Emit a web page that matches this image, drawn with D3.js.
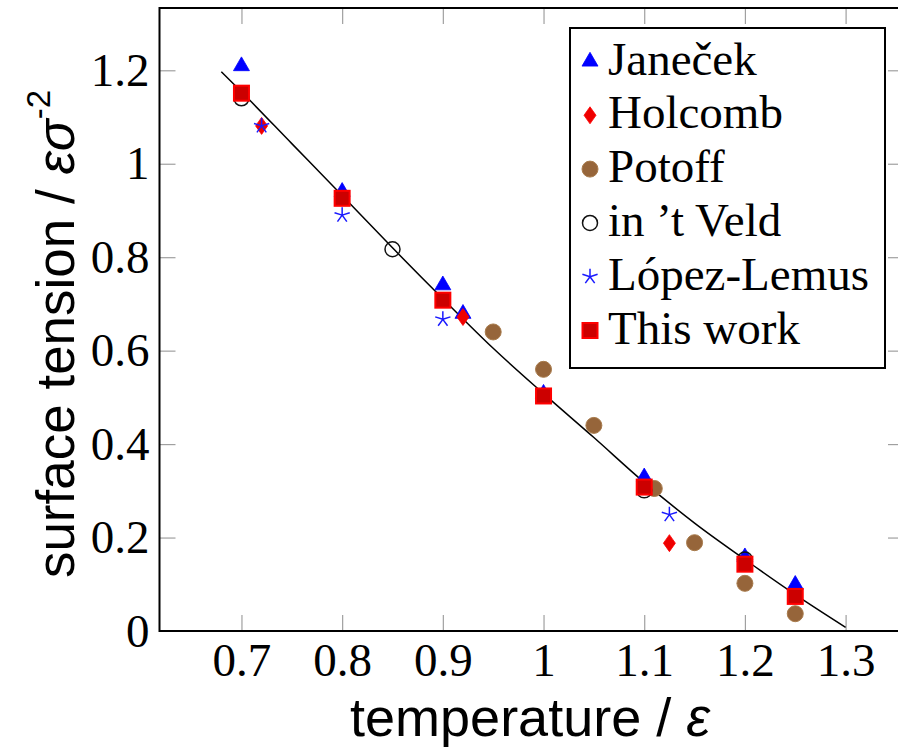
<!DOCTYPE html>
<html>
<head>
<meta charset="utf-8">
<script src="https://cdn.jsdelivr.net/npm/d3@7"></script>
<style>
  body { margin: 0; background: #fff; }
  svg { display: block; }
  .tick text { font-family: "Liberation Serif", serif; font-size: 47px; fill: #000; }
  .tick line { stroke: #a0a0a0; stroke-width: 1.2; }
</style>
</head>
<body>
<svg id="chart" width="898" height="748"></svg>
<script>
// fitted curve
const curveT = [0.68, 0.70, 0.75, 0.80, 0.85, 0.90, 0.95, 1.00, 1.05, 1.10, 1.15, 1.20, 1.25, 1.30];
const curveG = [1.197, 1.154, 1.043, 0.932, 0.820, 0.711, 0.605, 0.508, 0.414, 0.318, 0.231, 0.153, 0.078, 0.008];

const janecekT = [0.70, 0.80, 0.90, 0.92, 1.00, 1.10, 1.20, 1.25];
const janecekG = [1.209, 0.940, 0.740, 0.679, 0.508, 0.329, 0.158, 0.099];
const holcombT = [0.72, 0.92, 1.125];
const holcombG = [1.081, 0.672, 0.188];
const potoffT = [0.95, 1.00, 1.05, 1.11, 1.15, 1.20, 1.25];
const potoffG = [0.640, 0.560, 0.440, 0.305, 0.189, 0.102, 0.037];
const veldT = [0.70, 0.85, 1.10, 1.20];
const veldG = [1.140, 0.817, 0.301, 0.153];
const lopezT = [0.72, 0.80, 0.90, 1.125];
const lopezG = [1.081, 0.890, 0.667, 0.249];
const thisT = [0.70, 0.80, 0.90, 1.00, 1.10, 1.20, 1.25];
const thisG = [1.151, 0.926, 0.708, 0.503, 0.308, 0.143, 0.074];

const xTicks = [0.7, 0.8, 0.9, 1.0, 1.1, 1.2, 1.3];
const xTickLabels = ["0.7", "0.8", "0.9", "1", "1.1", "1.2", "1.3"];
const yTicks = [0, 0.2, 0.4, 0.6, 0.8, 1.0, 1.2];
const yTickLabels = ["0", "0.2", "0.4", "0.6", "0.8", "1", "1.2"];

const legendNames = ["Janeček", "Holcomb", "Potoff", "in ’t Veld", "López-Lemus", "This work"];

let plotLeft = 159.5, plotRight = 904, plotTop = 8, plotBottom = 631;

let svg = d3.select("#chart")

let x = d3.scaleLinear().domain([0.6186, 1.358]).range([plotLeft, plotRight])
let y = d3.scaleLinear().domain([0, 1.3333]).range([plotBottom, plotTop])

// ticks on all four sides, pointing inwards
svg.append("g")
   .attr("transform", `translate(0,${plotBottom})`)
   .call(d3.axisBottom(x).tickValues(xTicks).tickSizeInner(-16).tickSizeOuter(0).tickPadding(12)
          .tickFormat((d, i) => xTickLabels[i]))
   .call(g => g.select(".domain").remove())

svg.append("g")
   .attr("transform", `translate(${plotLeft},0)`)
   .call(d3.axisLeft(y).tickValues(yTicks).tickSizeInner(-16).tickSizeOuter(0).tickPadding(10)
          .tickFormat((d, i) => yTickLabels[i]))
   .call(g => g.select(".domain").remove())
   .call(g => g.selectAll(".tick").filter(d => d == 0).select("line").remove())

svg.append("g")
   .attr("transform", `translate(0,${plotTop})`)
   .call(d3.axisTop(x).tickValues(xTicks).tickSizeInner(-16).tickSizeOuter(0).tickFormat(""))
   .call(g => g.select(".domain").remove())

svg.append("g")
   .attr("transform", `translate(${plotRight},0)`)
   .call(d3.axisRight(y).tickValues(yTicks).tickSizeInner(-16).tickSizeOuter(0).tickFormat(""))
   .call(g => g.select(".domain").remove())
   .call(g => g.selectAll(".tick").filter(d => d == 0).select("line").remove())

svg.selectAll(".tick text").attr("fill", "#000")

// frame
svg.append("rect")
   .attr("x", plotLeft).attr("y", plotTop)
   .attr("width", plotRight - plotLeft).attr("height", plotBottom - plotTop)
   .attr("fill", "none").attr("stroke", "#000").attr("stroke-width", 2)

// curve
let line = d3.line()
             .x((d, i) => x(curveT[i]))
             .y(d => y(d))
             .curve(d3.curveMonotoneX)

svg.append("path")
   .datum(curveG)
   .attr("d", line)
   .attr("fill", "none")
   .attr("stroke", "#000")
   .attr("stroke-width", 1.5)

// marker shapes
const starPath = d3.range(5).map(k => {
  let a = -Math.PI / 2 + k * 2 * Math.PI / 5
  return `M0,0L${(8 * Math.cos(a)).toFixed(2)},${(8 * Math.sin(a)).toFixed(2)}`
}).join("")

const markers = [
  { name: legendNames[0], T: janecekT, G: janecekG,
    draw: g => g.append("path").attr("d", "M0,-9.2L8,4.6L-8,4.6Z").attr("fill", "#0000ff").attr("stroke", "#0000ff").attr("stroke-width", 0.8) },
  { name: legendNames[1], T: holcombT, G: holcombG,
    draw: g => g.append("path").attr("d", "M0,-8.5L6,0L0,8.5L-6,0Z").attr("fill", "#ee0000").attr("stroke", "#ff0000").attr("stroke-width", 0.8) },
  { name: legendNames[2], T: potoffT, G: potoffG,
    draw: g => g.append("circle").attr("r", 8).attr("fill", "#96653a").attr("stroke", "#a87b4c").attr("stroke-width", 1) },
  { name: legendNames[3], T: veldT, G: veldG,
    draw: g => g.append("circle").attr("r", 7.5).attr("fill", "none").attr("stroke", "#111").attr("stroke-width", 1.5) },
  { name: legendNames[4], T: lopezT, G: lopezG,
    draw: g => g.append("path").attr("d", starPath).attr("fill", "none").attr("stroke", "#1a1aff").attr("stroke-width", 1.5) },
  { name: legendNames[5], T: thisT, G: thisG,
    draw: g => g.append("rect").attr("x", -7.5).attr("y", -7.5).attr("width", 15).attr("height", 15).attr("fill", "#cc0000").attr("stroke", "#ff0000").attr("stroke-width", 2) }
]

markers.forEach(m => {
  let pts = svg.append("g")
  pts.selectAll("g")
     .data(m.G)
     .enter()
     .append("g")
     .attr("transform", (d, i) => `translate(${x(m.T[i])},${y(d)})`)
     .each(function() { m.draw(d3.select(this)) })
})

// legend
let legend = svg.append("g")
legend.append("rect")
      .attr("x", 570).attr("y", 28)
      .attr("width", 315).attr("height", 340)
      .attr("fill", "#fff").attr("stroke", "#000").attr("stroke-width", 2)

markers.forEach((m, i) => {
  let row = legend.append("g").attr("transform", `translate(590,${61.5 + i * 53.8})`)
  m.draw(row)
  row.append("text")
     .attr("x", 18).attr("y", 13)
     .attr("font-family", "Liberation Serif, serif")
     .attr("font-size", 47)
     .text(m.name)
})

// axis titles
svg.append("text")
   .attr("x", 530).attr("y", 736)
   .attr("text-anchor", "middle")
   .attr("font-family", "Liberation Sans, Arial, sans-serif")
   .attr("font-size", 54)
   .html('temperature / <tspan font-style="italic">ε</tspan>')

svg.append("text")
   .attr("transform", "translate(74,334) rotate(-90)")
   .attr("text-anchor", "middle")
   .attr("font-family", "Liberation Sans, Arial, sans-serif")
   .attr("font-size", 53)
   .html('surface tension / <tspan font-style="italic">εσ</tspan><tspan font-size="33" dy="-24">-2</tspan>')
</script>
</body>
</html>
